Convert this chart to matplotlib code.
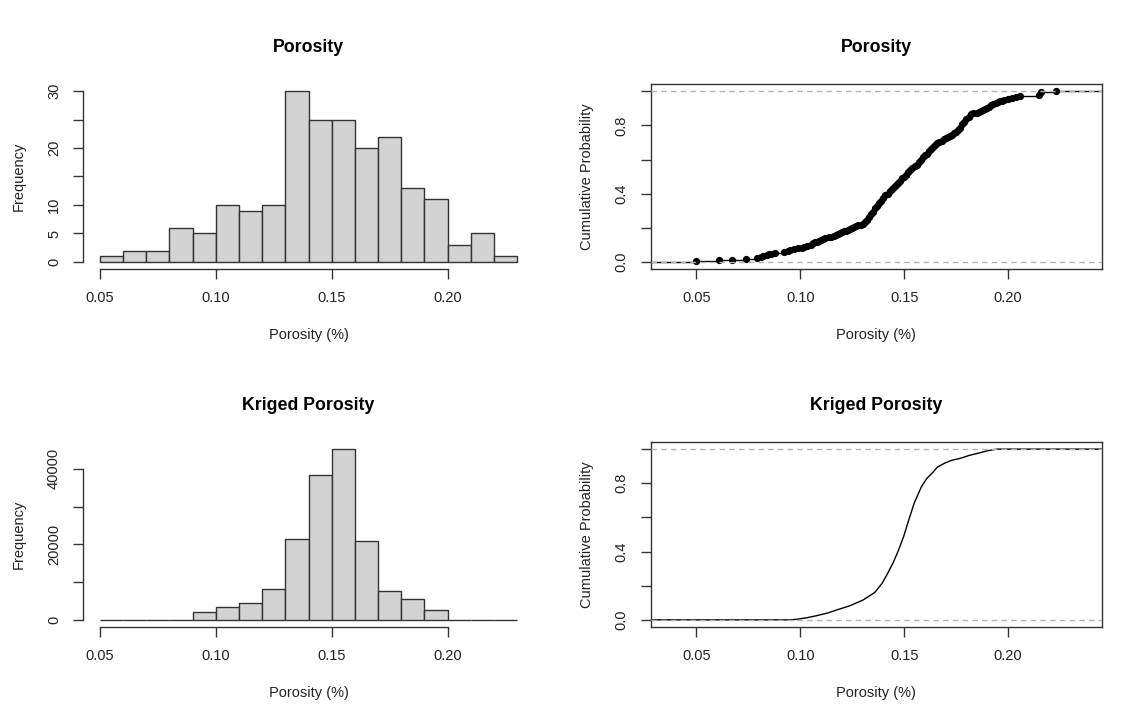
import numpy as np
import matplotlib
matplotlib.use('Agg')
import matplotlib.pyplot as plt

plt.rcParams['font.family'] = ['Liberation Sans', 'DejaVu Sans']

# Histogramm-Daten (Porosity, n = 200)
breaks = [0.05, 0.06, 0.07, 0.08, 0.09, 0.10, 0.11, 0.12, 0.13, 0.14,
          0.15, 0.16, 0.17, 0.18, 0.19, 0.20, 0.21, 0.22, 0.23]
poro_hist = [1, 2, 2, 6, 5, 10, 9, 10, 30, 25, 25, 20, 22, 13, 11, 3, 5, 1]

# Kriged porosity, gleiche Klassen
krig_hist = [0, 0, 0, 0, 2030, 3440, 4500, 8300, 21550, 38400, 45200,
             20840, 7600, 5470, 2560, 0, 0, 0]

# ECDF-Knoten der Porosity (Wert, Anzahl)
poro_values = [0.050, 0.061, 0.067, 0.074, 0.079,
               0.081, 0.082, 0.084, 0.085, 0.086, 0.088,
               0.092, 0.094, 0.095, 0.097, 0.099,
               0.101, 0.102, 0.103, 0.105, 0.106, 0.107, 0.108, 0.109, 0.110,
               0.111, 0.112, 0.114, 0.115, 0.116, 0.117, 0.118, 0.119, 0.120,
               0.121, 0.122, 0.123, 0.124, 0.125, 0.126, 0.127, 0.128, 0.129, 0.130,
               0.131, 0.132, 0.133, 0.134, 0.135, 0.136, 0.137, 0.138, 0.139, 0.140,
               0.141, 0.142, 0.143, 0.144, 0.145, 0.146, 0.147, 0.148, 0.149, 0.150,
               0.151, 0.152, 0.153, 0.154, 0.155, 0.156, 0.157, 0.158, 0.159, 0.160,
               0.161, 0.162, 0.163, 0.164, 0.165, 0.166, 0.167, 0.168, 0.169, 0.170,
               0.171, 0.172, 0.173, 0.174, 0.175, 0.176, 0.177, 0.178, 0.179, 0.180,
               0.181, 0.182, 0.183, 0.185, 0.186, 0.187, 0.188, 0.189, 0.190,
               0.191, 0.192, 0.193, 0.194, 0.195, 0.196, 0.197, 0.198, 0.200,
               0.202, 0.204, 0.206, 0.215, 0.216, 0.223]
poro_counts = [1, 1, 1, 1, 1,
               1, 1, 1, 1, 1, 1,
               1, 1, 1, 1, 1,
               1, 1, 1, 1, 2, 1, 1, 1, 1,
               1, 1, 1, 1, 1, 1, 1, 1, 1,
               1, 1, 1, 1, 1, 1, 1, 1, 1, 1,
               2, 2, 4, 3, 3, 4, 3, 3, 3, 3,
               3, 2, 3, 2, 3, 2, 3, 2, 3, 2,
               2, 3, 3, 2, 2, 2, 3, 3, 3, 2,
               2, 3, 2, 3, 2, 2, 2, 1, 2, 1,
               1, 2, 1, 2, 1, 2, 3, 4, 3, 3,
               3, 3, 1, 1, 1, 1, 1, 1, 1,
               2, 2, 1, 1, 1, 1, 1, 1, 1,
               1, 1, 1, 2, 3, 1]

# Kriged ECDF
krig_x = [0.0952, 0.098, 0.103, 0.108, 0.1134, 0.118, 0.1237, 0.130, 0.1358,
          0.1393, 0.1415, 0.1445, 0.147, 0.1497, 0.1522, 0.1548, 0.1583, 0.161,
          0.1635, 0.166, 0.1695, 0.173, 0.1773, 0.181, 0.1859, 0.190, 0.1946]
krig_F = [0.0, 0.003, 0.012, 0.025, 0.041, 0.06, 0.082, 0.115, 0.16,
          0.213, 0.26, 0.33, 0.40, 0.487, 0.585, 0.683, 0.78, 0.83,
          0.86, 0.895, 0.918, 0.935, 0.947, 0.962, 0.977, 0.99, 1.0]

xticks = [0.05, 0.10, 0.15, 0.20]
xticklabels = ['0.05', '0.10', '0.15', '0.20']

axcol = '#333333'
txtcol = '#222222'
fs = 10.5

fig = plt.figure(figsize=(11.32, 7.2), dpi=100)
W, H = 1132, 720


def make_ax(x0, y0, x1, y1):
    return fig.add_axes([x0 / W, 1 - y1 / H, (x1 - x0) / W, (y1 - y0) / H])


def style(ax, title, ylabel, frame):
    for s in ax.spines.values():
        s.set_color(axcol)
        s.set_linewidth(1.0)
    if not frame:
        ax.spines['top'].set_visible(False)
        ax.spines['right'].set_visible(False)
    ax.tick_params(direction='out', length=7, width=1.0, color=axcol,
                   labelcolor=txtcol, labelsize=fs, pad=9)
    for lab in ax.get_yticklabels():
        lab.set_rotation(90)
        lab.set_va('center')
    ax.set_xticks(xticks)
    ax.set_xticklabels(xticklabels)
    ax.set_title(title, fontweight='bold', fontsize=fs * 1.22, color='black',
                 y=1.2, pad=0, va='center')
    ax.set_xlabel('Porosity (%)', fontsize=fs, color=txtcol, va='center')
    ax.xaxis.set_label_coords(0.5, -0.36)
    ax.set_ylabel(ylabel, fontsize=fs, color=txtcol, va='center')
    ax.yaxis.set_label_coords(-0.143, 0.5)


def histo(ax, counts, yticks, ylabels, title):
    ax.bar(breaks[:-1], counts, width=np.diff(breaks), align='edge',
           color='#d3d3d3', edgecolor='#333333', linewidth=1.0)
    top = max(counts)
    ax.set_xlim(0.05 - 0.0072, 0.23 + 0.0072)
    ax.set_ylim(-0.04 * top, 1.04 * top)
    ax.set_yticks(yticks)
    ax.set_yticklabels(ylabels)
    ax.spines['left'].set_bounds(yticks[0], yticks[-1])
    ax.spines['bottom'].set_bounds(0.05, 0.20)
    style(ax, title, 'Frequency', frame=False)


ecdf_xlim = (0.0281, 0.2451)


def ecdf_frame(ax, title):
    ax.set_xlim(*ecdf_xlim)
    ax.set_ylim(-0.04, 1.04)
    ax.set_yticks([0, 0.2, 0.4, 0.6, 0.8, 1.0])
    ax.set_yticklabels(['0.0', '', '0.4', '', '0.8', ''])
    style(ax, title, 'Cumulative Probability', frame=True)


# Oben links: Histogramm Porosity
ax1 = make_ax(83.3, 84.2, 533.7, 268.8)
histo(ax1, poro_hist, [0, 5, 10, 15, 20, 25, 30],
      ['0', '5', '10', '', '20', '', '30'], 'Porosity')

# Oben rechts: ECDF Porosity
ax2 = make_ax(651, 84.3, 1101.7, 269)
vals = np.array(poro_values)
F = np.cumsum(poro_counts) / np.sum(poro_counts)
xs = np.concatenate([[ecdf_xlim[0] - 0.02], vals, [ecdf_xlim[1] + 0.02]])
ys = np.concatenate([[0.0], F])
ax2.hlines(ys, xs[:-1], xs[1:], color='black', linewidth=1.0, zorder=2)
ax2.plot(vals, F, 'o', color='black', markersize=4.2, zorder=3)
for h in (0, 1):
    ax2.axhline(h, color='#b3b3b3', linestyle=(0, (4, 3)), linewidth=1.0, zorder=4)
ecdf_frame(ax2, 'Porosity')

# Unten links: Histogramm Kriged Porosity
ax3 = make_ax(83.3, 442.4, 533.7, 626.8)
histo(ax3, krig_hist, [0, 10000, 20000, 30000, 40000],
      ['0', '', '20000', '', '40000'], 'Kriged Porosity')

# Unten rechts: ECDF Kriged Porosity
ax4 = make_ax(651, 442.3, 1101.7, 626.7)
kx = [ecdf_xlim[0] - 0.02] + krig_x + [ecdf_xlim[1] + 0.02]
kF = [0.0] + krig_F + [1.0]
ax4.plot(kx, kF, color='black', linewidth=1.0, zorder=2)
for h in (0, 1):
    ax4.axhline(h, color='#b3b3b3', linestyle=(0, (4, 3)), linewidth=1.0, zorder=4)
ecdf_frame(ax4, 'Kriged Porosity')

fig.savefig('out.png', dpi=100, facecolor='white')
